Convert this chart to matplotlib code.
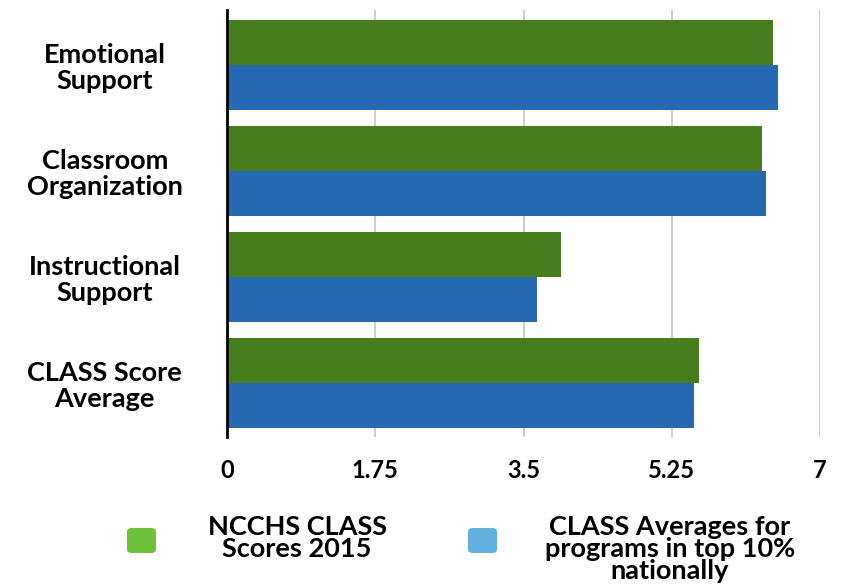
import matplotlib
matplotlib.use("Agg")
import matplotlib.pyplot as plt
from matplotlib.patches import FancyBboxPatch
import numpy as np

# --- Data ---
categories = ["Emotional\nSupport", "Classroom\nOrganization",
              "Instructional\nSupport", "CLASS Score\nAverage"]
ncchs_2015 = [6.45, 6.32, 3.94, 5.57]
top_10_pct = [6.51, 6.36, 3.66, 5.51]
xticks = [0, 1.75, 3.5, 5.25, 7]
xtick_labels = ["0", "1.75", "3.5", "5.25", "7"]
series_names = ["NCCHS CLASS\nScores 2015",
                "CLASS Averages for\nprograms in top 10%\nnationally"]

BAR_GREEN = "#467e1e"
BAR_BLUE = "#2569b1"
KEY_GREEN = "#6ec23a"
KEY_BLUE = "#62b0e0"

plt.rcParams["font.family"] = ["Lato", "DejaVu Sans"]
WEIGHT = "bold"

W, H = 841, 587
fig = plt.figure(figsize=(W / 100, H / 100), dpi=100)
ax = fig.add_axes([227 / W, 1 - 437 / H, (820 - 227) / W, (437 - 10) / H])

y = np.arange(len(categories))
h = 0.425
ax.barh(y - h / 2, ncchs_2015, height=h, color=BAR_GREEN, zorder=2)
ax.barh(y + h / 2, top_10_pct, height=h, color=BAR_BLUE, zorder=2)

ax.set_xlim(0, 7)
ax.set_ylim(3.51, -0.52)
ax.set_xticks(xticks)
ax.set_xticklabels(xtick_labels, fontsize=17, fontweight=WEIGHT)
ax.set_yticks(y)
ax.set_yticklabels(categories, fontsize=19.5, fontweight=WEIGHT,
                   ha="center", multialignment="center", linespacing=1.1)
ax.tick_params(axis="y", length=0, pad=88)
ax.tick_params(axis="x", length=0, pad=16)

for s in ["top", "right", "bottom"]:
    ax.spines[s].set_visible(False)
ax.spines["left"].set_linewidth(2)
ax.spines["left"].set_color("black")
ax.spines["left"].set_zorder(3)
ax.grid(axis="x", color="#c8c8c8", linewidth=1.3, zorder=1)
ax.grid(axis="y", visible=False)

# --- Legend (manual, to keep centred multi-line labels) ---
def key(x0, color):
    fig.patches.append(FancyBboxPatch(
        (x0 / W, 34 / H), 29 / W, 25 / H,
        boxstyle="round,pad=0,rounding_size=0.006",
        transform=fig.transFigure, facecolor=color, edgecolor="none"))

key(127, KEY_GREEN)
key(468, KEY_BLUE)
fig.text(297 / W, 1 - 538 / H, series_names[0], ha="center", va="center",
         multialignment="center", fontsize=19.5, fontweight=WEIGHT,
         linespacing=0.9)
fig.text(670 / W, 1 - 549 / H, series_names[1], ha="center", va="center",
         multialignment="center", fontsize=19.5, fontweight=WEIGHT,
         linespacing=0.9)

fig.savefig("out.png", dpi=100, facecolor="white")
